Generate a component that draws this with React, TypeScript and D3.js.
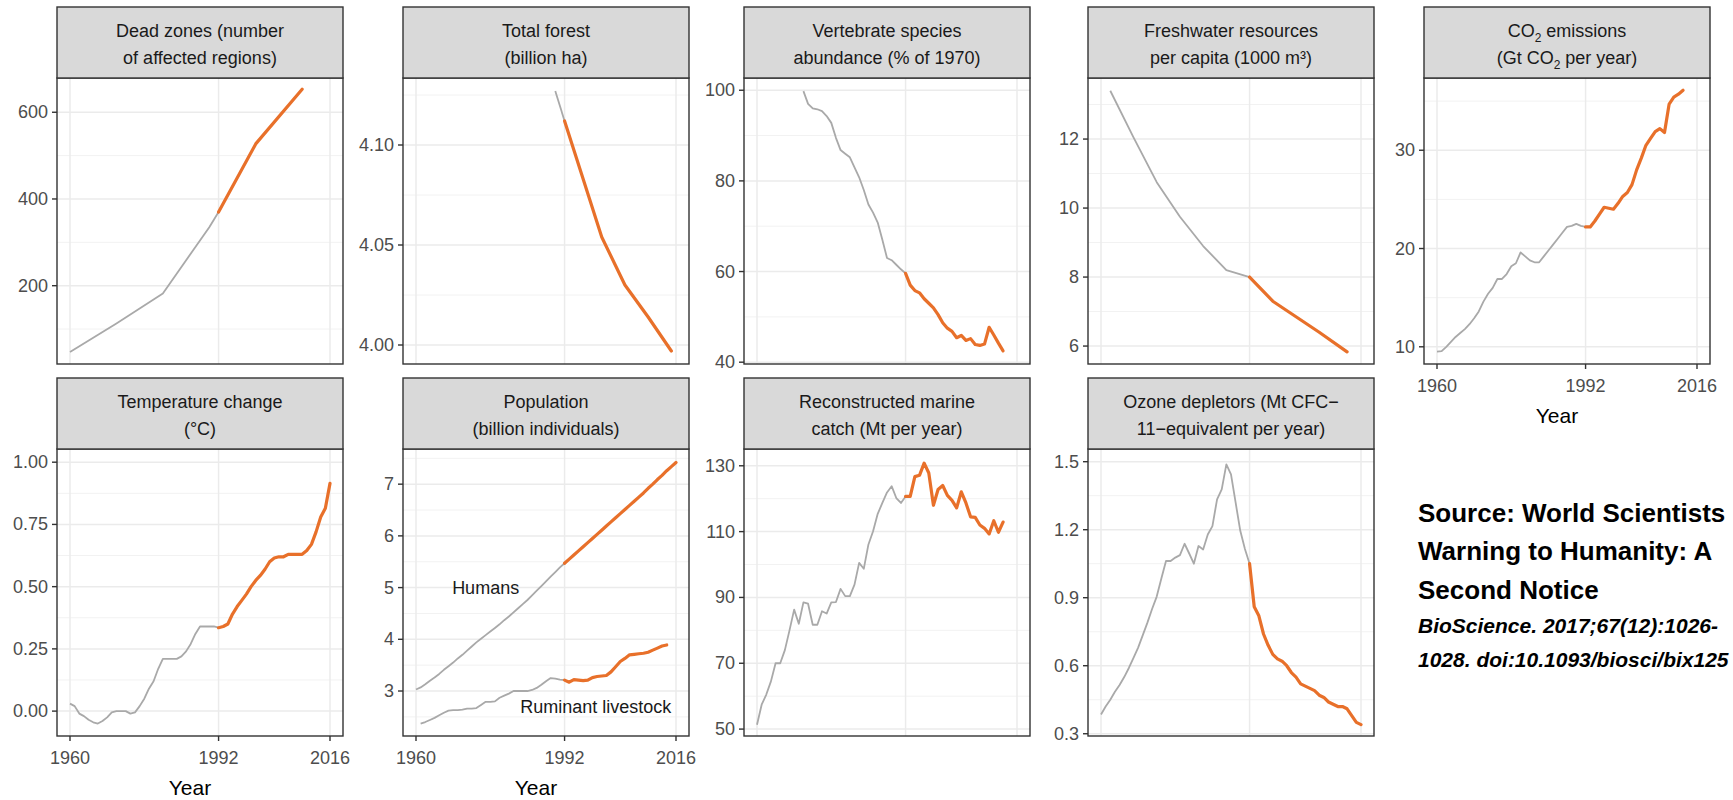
import * as d3 from "d3";

// ---- data ----
const yearTicks = [1960, 1992, 2016];
const yearLabels = ["1960", "1992", "2016"];
const splitYear = 1992;

const deadZoneYears = [1960, 1970, 1980, 1990, 1992, 2000, 2010];
const deadZoneValues = [47, 113, 182, 335, 370, 527, 653];

const forestYears = [1990, 1992, 2000, 2005, 2010, 2015];
const forestValues = [4.127, 4.112, 4.054, 4.03, 4.014, 3.997];

const vertebrateStart = 1970;
const vertebrateValues = [
  99.8, 97, 96, 95.8, 95.4, 94.3, 92.8, 89.5, 86.8, 86,
  85.2, 83, 80.8, 78, 74.8, 73, 70.8, 67, 63, 62.5,
  61.5, 60.5, 59.6, 57, 55.8, 55.3, 54, 53, 52, 50.5,
  48.7, 47.5, 46.8, 45.4, 45.9, 44.8, 45.2, 43.9, 43.7, 44.0,
  47.7, 46, 44.2, 42.5,
];

const freshwaterYears = [1962, 1967, 1972, 1977, 1982, 1987, 1992, 1997, 2002, 2007, 2013];
const freshwaterValues = [13.4, 12.05, 10.75, 9.75, 8.9, 8.2, 8.0, 7.3, 6.85, 6.4, 5.83];

const co2Start = 1960;
const co2Values = [
  9.5, 9.55, 10.0, 10.5, 11.0, 11.4, 11.8, 12.3, 12.9, 13.6,
  14.6, 15.4, 16.0, 16.9, 16.9, 17.4, 18.2, 18.5, 19.6, 19.2,
  18.8, 18.6, 18.6, 19.2, 19.8, 20.4, 21.0, 21.6, 22.2, 22.3,
  22.5, 22.3, 22.2, 22.2, 22.8, 23.5, 24.2, 24.1, 24.0, 24.6,
  25.3, 25.7, 26.5, 28.0, 29.2, 30.5, 31.2, 31.9, 32.2, 31.8,
  34.7, 35.4, 35.7, 36.1,
];

const temperatureStart = 1960;
const temperatureValues = [
  0.03, 0.02, -0.01, -0.02, -0.035, -0.045, -0.05, -0.04, -0.025, -0.005,
  0.0, 0.0, 0.0, -0.01, -0.005, 0.02, 0.05, 0.09, 0.12, 0.17,
  0.21, 0.21, 0.21, 0.21, 0.22, 0.24, 0.27, 0.31, 0.34, 0.34,
  0.34, 0.34, 0.335, 0.34, 0.35, 0.39, 0.42, 0.445, 0.47, 0.5,
  0.525, 0.545, 0.57, 0.6, 0.615, 0.62, 0.62, 0.63, 0.63, 0.63,
  0.63, 0.645, 0.67, 0.72, 0.78, 0.815, 0.915,
];

const humanStart = 1960;
const humanValues = [
  3.03, 3.07, 3.13, 3.2, 3.26, 3.33, 3.41, 3.48, 3.55, 3.63,
  3.7, 3.78, 3.86, 3.94, 4.01, 4.08, 4.15, 4.22, 4.29, 4.37,
  4.44, 4.52, 4.6, 4.68, 4.76, 4.85, 4.94, 5.03, 5.12, 5.21,
  5.3, 5.39, 5.47, 5.55, 5.63, 5.71, 5.79, 5.87, 5.95, 6.03,
  6.11, 6.19, 6.27, 6.35, 6.43, 6.51, 6.59, 6.67, 6.75, 6.83,
  6.92, 7.0, 7.09, 7.17, 7.26, 7.34, 7.42,
];

const livestockStart = 1961;
const livestockValues = [
  2.37, 2.4, 2.44, 2.48, 2.53, 2.58, 2.62, 2.63, 2.63,
  2.64, 2.66, 2.66, 2.67, 2.73, 2.79, 2.79, 2.8, 2.87, 2.91,
  2.95, 3.0, 3.0, 3.0, 3.0, 3.02, 3.06, 3.12, 3.19, 3.25,
  3.24, 3.22, 3.21, 3.17, 3.22, 3.21, 3.2, 3.21, 3.26, 3.28,
  3.29, 3.3, 3.37, 3.47, 3.57, 3.63, 3.7, 3.71, 3.72, 3.73,
  3.75, 3.79, 3.83, 3.87, 3.89,
];

const marineStart = 1960;
const marineValues = [
  51.3, 57.4, 60.5, 64.5, 70, 70, 74, 80, 86.3, 82,
  88.5, 88.1, 81.7, 81.7, 85.8, 85.1, 88.5, 88.6, 92.6, 90.4,
  90.4, 93.9, 100.5, 98.7, 106.1, 110.1, 115.4, 118.7, 121.9, 123.8,
  120.2, 118.7, 120.7, 120.7, 126.7, 127.1, 130.8, 127.8, 118, 122.8,
  124, 121, 119.5, 117.2, 122.1, 118.7, 114.5, 114.3, 112, 111,
  109.3, 113.3, 109.8, 112.9,
];

const ozoneStart = 1960;
const ozoneValues = [
  0.385, 0.42, 0.45, 0.485, 0.515, 0.55, 0.59, 0.635, 0.68, 0.735,
  0.79, 0.85, 0.905, 0.985, 1.062, 1.062, 1.077, 1.088, 1.138, 1.095,
  1.05, 1.128, 1.113, 1.179, 1.216, 1.334, 1.378, 1.488, 1.444, 1.319,
  1.195, 1.115, 1.05, 0.86, 0.82, 0.74, 0.69, 0.65, 0.63, 0.62,
  0.6, 0.57, 0.55, 0.52, 0.51, 0.5, 0.49, 0.47, 0.46, 0.44,
  0.43, 0.42, 0.42, 0.41, 0.38, 0.35, 0.34,
];

const sourceLines = ["Source: World Scientists", "Warning to Humanity: A", "Second Notice"];
const citationLines = ["BioScience. 2017;67(12):1026-", "1028. doi:10.1093/biosci/bix125"];

// ---- helpers ----
type Pt = [number, number];
const byYear = (years: number[], values: number[]): Pt[] => values.map((v, i) => [years[i], v]);
const fromYear = (start: number, values: number[]): Pt[] => values.map((v, i) => [start + i, v]);

type Note = { text: string; year: number; value: number };
type Panel = {
  title: string[];
  col: number;
  row: number;
  domain: [number, number];
  ticks: number[];
  tickLabels: string[];
  series: Pt[][];
  xAxis?: boolean;
  notes?: Note[];
};

const panels: Panel[] = [
  {
    title: ["Dead zones (number", "of affected regions)"],
    col: 0, row: 0, domain: [19.4, 679],
    ticks: [200, 400, 600], tickLabels: ["200", "400", "600"],
    series: [byYear(deadZoneYears, deadZoneValues)],
  },
  {
    title: ["Total forest", "(billion ha)"],
    col: 1, row: 0, domain: [3.9905, 4.1335],
    ticks: [4.0, 4.05, 4.1], tickLabels: ["4.00", "4.05", "4.10"],
    series: [byYear(forestYears, forestValues)],
  },
  {
    title: ["Vertebrate species", "abundance (% of 1970)"],
    col: 2, row: 0, domain: [39.6, 102.7],
    ticks: [40, 60, 80, 100], tickLabels: ["40", "60", "80", "100"],
    series: [fromYear(vertebrateStart, vertebrateValues)],
  },
  {
    title: ["Freshwater resources", "per capita (1000 m\u00b3)"],
    col: 3, row: 0, domain: [5.48, 13.77],
    ticks: [6, 8, 10, 12], tickLabels: ["6", "8", "10", "12"],
    series: [byYear(freshwaterYears, freshwaterValues)],
  },
  {
    title: ["CO_2 emissions", "(Gt CO_2 per year)"],
    col: 4, row: 0, domain: [8.25, 37.35],
    ticks: [10, 20, 30], tickLabels: ["10", "20", "30"],
    series: [fromYear(co2Start, co2Values)], xAxis: true,
  },
  {
    title: ["Temperature change", "(\u00b0C)"],
    col: 0, row: 1, domain: [-0.1, 1.053],
    ticks: [0, 0.25, 0.5, 0.75, 1], tickLabels: ["0.00", "0.25", "0.50", "0.75", "1.00"],
    series: [fromYear(temperatureStart, temperatureValues)], xAxis: true,
  },
  {
    title: ["Population", "(billion individuals)"],
    col: 1, row: 1, domain: [2.13, 7.68],
    ticks: [3, 4, 5, 6, 7], tickLabels: ["3", "4", "5", "6", "7"],
    series: [fromYear(humanStart, humanValues), fromYear(livestockStart, livestockValues)],
    xAxis: true,
    notes: [
      { text: "Humans", year: 1975, value: 5.0 },
      { text: "Ruminant livestock", year: 1998.7, value: 2.69 },
    ],
  },
  {
    title: ["Reconstructed marine", "catch (Mt per year)"],
    col: 2, row: 1, domain: [47.9, 135.1],
    ticks: [50, 70, 90, 110, 130], tickLabels: ["50", "70", "90", "110", "130"],
    series: [fromYear(marineStart, marineValues)],
  },
  {
    title: ["Ozone depletors (Mt CFC\u2212", "11\u2212equivalent per year)"],
    col: 3, row: 1, domain: [0.29, 1.556],
    ticks: [0.3, 0.6, 0.9, 1.2, 1.5], tickLabels: ["0.3", "0.6", "0.9", "1.2", "1.5"],
    series: [fromYear(ozoneStart, ozoneValues)],
  },
];

// ---- layout ----
const FONT = "'Liberation Sans', Arial, Helvetica, sans-serif";
const COLS = [57, 403, 744, 1088, 1424];
const PANEL_W = 286;
const ROWS = [
  { strip: 7, top: 78, bottom: 364 },
  { strip: 378, top: 449, bottom: 736 },
];
const GRAY = "#a9a9a9";
const ORANGE = "#e8702a";
const DARK = "#333333";

const minorTicks = (ticks: number[], domain: [number, number]) => {
  const step = ticks[1] - ticks[0];
  const out: number[] = [];
  for (let i = -1; i < ticks.length; i++) {
    const t = ticks[0] + step * (i + 0.5);
    if (t >= domain[0] && t <= domain[1]) out.push(t);
  }
  return out;
};

const StripLine = ({ text, x, y }: { text: string; x: number; y: number }) => {
  const parts = text.split(/(_\d)/).filter((p) => p !== "");
  return (
    <text x={x} y={y} textAnchor="middle" fontSize={18} fill="#1a1a1a">
      {parts.map((p, i) => {
        if (p.startsWith("_")) {
          return (
            <tspan key={i} fontSize={12} dy={5}>
              {p.slice(1)}
            </tspan>
          );
        }
        const after = i > 0 && parts[i - 1].startsWith("_");
        return (
          <tspan key={i} dy={after ? -5 : 0}>
            {p}
          </tspan>
        );
      })}
    </text>
  );
};

const PanelView = ({ p }: { p: Panel }) => {
  const left = COLS[p.col];
  const right = left + PANEL_W;
  const row = ROWS[p.row];
  const x = d3.scaleLinear().domain([1957.2, 2018.8]).range([left, right]);
  const y = d3.scaleLinear().domain(p.domain).range([row.bottom, row.top]);
  const line = d3
    .line<Pt>()
    .x((d) => x(d[0]))
    .y((d) => y(d[1]));
  const cx = (left + right) / 2;

  return (
    <g>
      <rect x={left} y={row.top} width={PANEL_W} height={row.bottom - row.top} fill="#fff" />
      {minorTicks(p.ticks, p.domain).map((t) => (
        <line key={"m" + t} x1={left} x2={right} y1={y(t)} y2={y(t)} stroke="#f2f2f2" strokeWidth={1} />
      ))}
      {p.ticks.map((t) => (
        <line key={"g" + t} x1={left} x2={right} y1={y(t)} y2={y(t)} stroke="#ebebeb" strokeWidth={1.5} />
      ))}
      {yearTicks.map((t) => (
        <line key={"v" + t} x1={x(t)} x2={x(t)} y1={row.top} y2={row.bottom} stroke="#ebebeb" strokeWidth={1.5} />
      ))}
      {p.series.map((s, i) => (
        <g key={i}>
          <path d={line(s.filter((d) => d[0] <= splitYear)) || ""} fill="none" stroke={GRAY} strokeWidth={1.8} strokeLinejoin="round" />
          <path d={line(s.filter((d) => d[0] >= splitYear)) || ""} fill="none" stroke={ORANGE} strokeWidth={3.2} strokeLinejoin="round" strokeLinecap="round" />
        </g>
      ))}
      {(p.notes || []).map((n) => (
        <text key={n.text} x={x(n.year)} y={y(n.value)} textAnchor="middle" dominantBaseline="central" fontSize={18} fill="#1a1a1a">
          {n.text}
        </text>
      ))}
      <rect x={left} y={row.top} width={PANEL_W} height={row.bottom - row.top} fill="none" stroke={DARK} strokeWidth={1.4} />
      <rect x={left} y={row.strip} width={PANEL_W} height={row.top - row.strip} fill="#d9d9d9" stroke={DARK} strokeWidth={1.4} />
      <StripLine text={p.title[0]} x={cx} y={row.strip + 29.5} />
      <StripLine text={p.title[1]} x={cx} y={row.strip + 56.5} />
      {p.ticks.map((t, i) => (
        <g key={"t" + t}>
          <line x1={left - 5} x2={left} y1={y(t)} y2={y(t)} stroke={DARK} strokeWidth={1.4} />
          <text x={left - 9} y={y(t)} textAnchor="end" dominantBaseline="central" fontSize={18} fill="#4d4d4d">
            {p.tickLabels[i]}
          </text>
        </g>
      ))}
      {p.xAxis && (
        <g>
          {yearTicks.map((t, i) => (
            <g key={"x" + t}>
              <line x1={x(t)} x2={x(t)} y1={row.bottom} y2={row.bottom + 5} stroke={DARK} strokeWidth={1.4} />
              <text x={x(t)} y={row.bottom + 28} textAnchor="middle" fontSize={18} fill="#4d4d4d">
                {yearLabels[i]}
              </text>
            </g>
          ))}
          <text x={cx - 10} y={row.bottom + 59} textAnchor="middle" fontSize={21} fill="#000">
            Year
          </text>
        </g>
      )}
    </g>
  );
};

export default function App() {
  return (
    <svg
      width={1733}
      height={800}
      style={{ position: "absolute", left: 0, top: 0, background: "#fff" }}
      fontFamily={FONT}
    >
      <rect width={1733} height={800} fill="#fff" />
      {panels.map((p) => (
        <PanelView key={p.title.join(" ")} p={p} />
      ))}
      {sourceLines.map((s, i) => (
        <text key={s} x={1418} y={522 + i * 38.3} fontSize={26} fontWeight="bold" fill="#000">
          {s}
        </text>
      ))}
      {citationLines.map((s, i) => (
        <text key={s} x={1418} y={633 + i * 33.5} fontSize={21} fontWeight="bold" fontStyle="italic" fill="#000">
          {s}
        </text>
      ))}
    </svg>
  );
}
